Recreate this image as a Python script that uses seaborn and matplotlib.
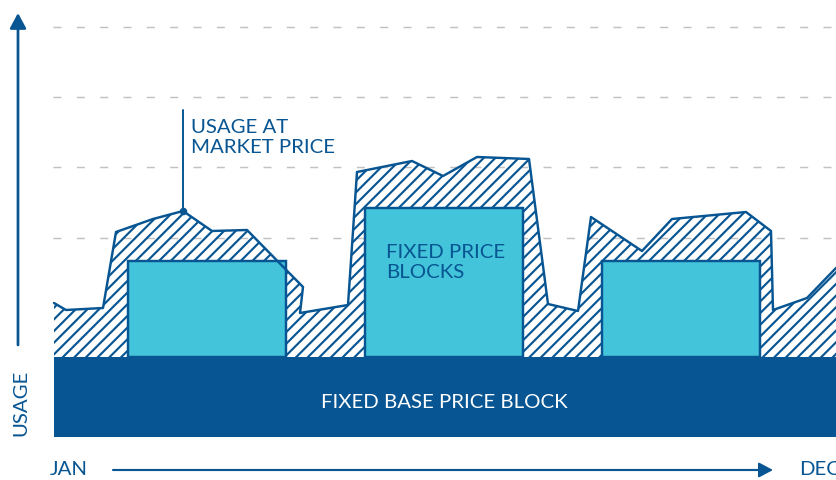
import matplotlib
matplotlib.use("Agg")
import matplotlib.pyplot as plt
import seaborn as sns

# usage at market price over the year (x: position along the year, y: usage)
usage_x = [0.0, 1.2, 4.9, 6.2, 9.9, 12.9, 15.8, 19.3, 24.9, 24.6, 29.4, 30.3, 35.8,
           38.9, 42.3, 47.5, 49.4, 52.4, 53.7, 58.8, 61.8, 69.2, 71.7, 71.9, 75.3, 78.2]
usage_y = [13.4, 12.7, 12.9, 20.5, 21.8, 22.6, 20.6, 20.7, 15.0, 12.4, 13.2, 26.5, 27.6,
           26.1, 28.0, 27.8, 13.3, 12.6, 22.0, 18.6, 21.8, 22.5, 20.6, 12.7, 13.9, 16.9]
marked_point = 5          # point the "usage at market price" label points to
label_top = 32.7

# fixed price blocks
block_start = [7.4, 31.1, 54.8]
block_width = [15.8, 15.8, 15.8]
block_top = [17.6, 22.9, 17.6]

# fixed base price block
base_start = 0.0
base_end = 78.2
base_top = 8.0

grid_levels = [19.9, 27.0, 34.0, 41.0]

DARK = "#075592"
LIGHT = "#43C4DA"
GRID = "#C2C2C2"

sns.set_style("white")
plt.rcParams["font.family"] = ["Lato", "DejaVu Sans"]
plt.rcParams["hatch.linewidth"] = 2.2
plt.rcParams["hatch.color"] = DARK

DPI = 70
fig = plt.figure(figsize=(836 / DPI, 480 / DPI), dpi=DPI)
ax = fig.add_axes([0, 0, 1, 1])
ax.set_xlim(-5.4, 78.2)
ax.set_ylim(-4.3, 43.7)
ax.axis("off")

# dashed gridlines
ax.hlines(grid_levels, -0.1, base_end, colors=GRID, lw=1.5,
          linestyles=(0, (5.5, 10.5)), zorder=1)

# hatched area between base block and usage curve
poly_x = usage_x + [usage_x[-1], usage_x[0]]
poly_y = usage_y + [base_top, base_top]
ax.fill(poly_x, poly_y, facecolor="none", edgecolor=DARK, hatch="//", lw=0, zorder=2)

# base block
ax.bar([base_start], [base_top], width=base_end - base_start, bottom=0, align="edge",
       color=DARK, lw=0, zorder=3)

# fixed price blocks
ax.bar(block_start, [t - base_top for t in block_top], width=block_width, bottom=base_top,
       align="edge", color=LIGHT, edgecolor=DARK, lw=2.5, zorder=3)

# usage line
sns.lineplot(x=usage_x, y=usage_y, sort=False, estimator=None, color=DARK, lw=2.5,
             ax=ax, zorder=4)
sns.scatterplot(x=[usage_x[marked_point]], y=[usage_y[marked_point]], s=60, color=DARK,
                linewidth=0, ax=ax, zorder=5)
ax.plot([usage_x[marked_point]] * 2, [usage_y[marked_point], label_top], color=DARK,
        lw=2, zorder=5)

# texts (va="baseline" on multi-line text anchors the last line)
fs = 21
ax.text(13.7, 28.4, "USAGE AT\nMARKET PRICE", color=DARK, fontsize=fs, va="baseline",
        ha="left", linespacing=1.2)
ax.text(33.2, 15.9, "FIXED PRICE\nBLOCKS", color=DARK, fontsize=fs, va="baseline",
        ha="left", linespacing=1.2, zorder=6)
ax.text(39.0, 2.9, "FIXED BASE PRICE BLOCK", color="white", fontsize=fs, va="baseline",
        ha="center", zorder=6)
ax.text(-0.4, -3.8, "JAN", color=DARK, fontsize=fs, va="baseline", ha="left")
ax.text(74.5, -3.8, "DEC", color=DARK, fontsize=fs, va="baseline", ha="left")
ax.text(-3.3, 3.4, "USAGE", color=DARK, fontsize=fs, va="center", ha="center", rotation=90)

# axis arrows
ax.annotate("", xy=(-3.6, 42.4), xytext=(-3.6, 9.2),
            arrowprops=dict(arrowstyle="-|>,head_length=0.65,head_width=0.35",
                            mutation_scale=20, color=DARK, lw=2.8, shrinkA=0, shrinkB=0))
ax.annotate("", xy=(71.9, -3.3), xytext=(5.9, -3.3),
            arrowprops=dict(arrowstyle="-|>,head_length=0.6,head_width=0.32",
                            mutation_scale=20, color=DARK, lw=2.2, shrinkA=0, shrinkB=0))

fig.savefig("out.png", dpi=DPI)
